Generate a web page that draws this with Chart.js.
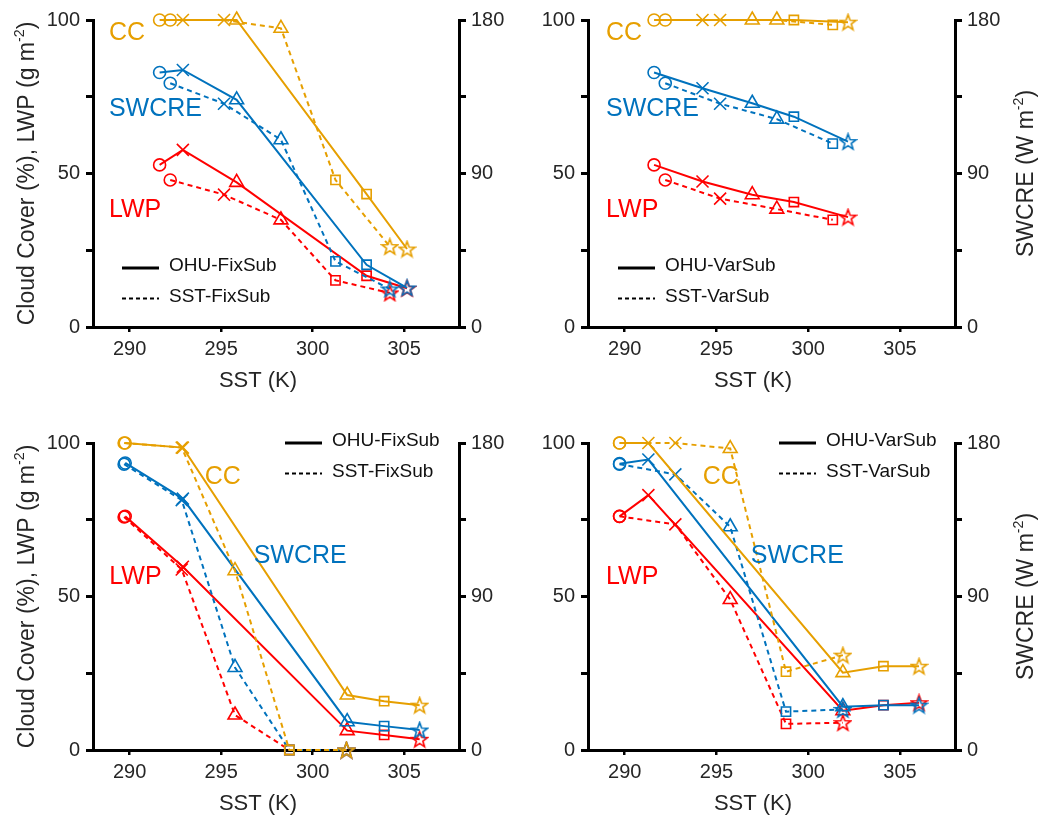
<!DOCTYPE html>
<html>
<head>
<meta charset="utf-8">
<script src="https://cdn.jsdelivr.net/npm/chart.js@4.4.1/dist/chart.umd.min.js"></script>
<style>
  html, body { margin: 0; padding: 0; background: #fff; overflow: hidden; }
  canvas { position: absolute; }
</style>
</head>
<body>
<canvas id="pa" width="520" height="394" style="left:0;top:0"></canvas>
<canvas id="pb" width="525" height="394" style="left:520px;top:0"></canvas>
<canvas id="pc" width="520" height="394" style="left:0;top:423px"></canvas>
<canvas id="pd" width="525" height="394" style="left:520px;top:423px"></canvas>
<script>
const FONT = '"Liberation Sans", Arial, Helvetica, sans-serif';
const CC_COLOR = '#E69F00';
const SW_COLOR = '#0072BD';
const LWP_COLOR = '#FF0000';

// axis ticks
const sstTicks = [290, 295, 300, 305];
const leftTicks = [0, 25, 50, 75, 100];
const leftLabels = [0, 50, 100];
const rightTicks = [0, 45, 90, 135, 180];
const rightLabels = [0, 90, 180];

// panel a: OHU-FixSub (solid) vs SST-FixSub (dashed)
const sstOhuA = [291.64, 292.91, 295.85, 302.95, 305.16];
const sstSstA = [292.22, 295.16, 298.27, 301.25, 304.22];
const ccOhuA  = [100, 100, 100, 43.3, 25.4];
const ccSstA  = [100, 100, 97.3, 47.9, 26.2];
const swOhuA  = [149.2, 150.7, 133.2, 36.5, 22.9];
const swSstA  = [142.9, 130.9, 109.8, 38.5, 22.3];
const lwpOhuA = [52.8, 57.7, 47.1, 16.7, 12.6];
const lwpSstA = [47.9, 43.1, 34.9, 15.2, 11.1];

// panel b: OHU-VarSub vs SST-VarSub
const sstOhuB = [291.6, 294.24, 296.95, 299.22, 302.17];
const sstSstB = [292.21, 295.2, 298.29, 301.34];
const ccOhuB  = [100, 100, 100, 100, 99.3];
const ccSstB  = [100, 100, 100, 98.4];
const swOhuB  = [149.2, 140.0, 131.2, 123.3, 108.7];
const swSstB  = [142.9, 130.9, 121.9, 107.5];
const lwpOhuB = [52.8, 47.4, 43.1, 40.7, 35.8];
const lwpSstB = [47.9, 41.8, 38.4, 34.9];

// panel c: OHU-FixSub vs SST-FixSub
const sstOhuC = [289.76, 292.91, 301.89, 303.91, 305.85];
const sstSstC = [289.7, 292.85, 295.76, 298.73, 301.85];
const ccOhuC  = [100, 98.5, 17.9, 15.9, 14.6];
const ccSstC  = [100, 98.5, 58.4, 0, 0];
const swOhuC  = [168.3, 147.4, 16.6, 14.0, 11.7];
const swSstC  = [167.6, 146.5, 48.4, 0, 0];
const lwpOhuC = [76.1, 59.7, 6.3, 4.9, 3.5];
const lwpSstC = [75.9, 58.8, 11.4, 0, 0];

// panel d: OHU-VarSub vs SST-VarSub
const sstOhuD = [289.72, 291.29, 301.89, 304.1, 306.04];
const sstSstD = [289.72, 292.76, 295.75, 298.79, 301.89];
const ccOhuD  = [100, 100, 25.2, 27.3, 27.3];
const ccSstD  = [100, 100, 98.2, 25.5, 30.9];
const swOhuD  = [167.9, 170.3, 25.4, 26.3, 26.3];
const swSstD  = [167.6, 161.6, 130.9, 22.5, 23.8];
const lwpOhuD = [76.1, 83.0, 12.8, 14.6, 15.4];
const lwpSstD = [76.1, 73.5, 49.0, 8.5, 8.9];

// in-plot series names, [x, y] in data units
const namePosA = [[288.87, 95.8], [288.87, 71.0], [288.87, 38.1]];
const namePosB = [[288.98, 95.8], [288.98, 71.0], [288.98, 38.1]];
const namePosC = [[294.11, 89.0], [296.78, 63.0], [288.89, 56.4]];
const namePosD = [[294.25, 89.0], [296.87, 63.0], [288.98, 56.4]];

function makeStar(color) {
  const c = document.createElement('canvas');
  c.width = 19; c.height = 19;
  const g = c.getContext('2d');
  g.strokeStyle = color;
  g.lineWidth = 1.6;
  g.beginPath();
  for (let i = 0; i < 10; i++) {
    const r = i % 2 === 0 ? 8.3 : 3.4;
    const a = -Math.PI / 2 + i * Math.PI / 5;
    const px = 9.5 + r * Math.cos(a), py = 10.2 + r * Math.sin(a);
    if (i) g.lineTo(px, py); else g.moveTo(px, py);
  }
  g.closePath();
  g.stroke();
  return c;
}
const stars = {};
[CC_COLOR, SW_COLOR, LWP_COLOR].forEach(c => { stars[c] = makeStar(c); });

const MARKERS = ['circle', 'crossRot', 'triangle', 'rect', 'star'];
const RADII = [6, 8.5, 8, 6.5, 8];

function series(xs, ys, color, dashed, axis) {
  const n = xs.length;
  return {
    data: xs.map((x, i) => ({x: x, y: ys[i]})),
    yAxisID: axis,
    borderColor: color,
    backgroundColor: 'transparent',
    borderWidth: 2,
    borderDash: dashed ? [5, 4] : [],
    pointStyle: MARKERS.slice(0, n).map(m => m === 'star' ? stars[color] : m),
    pointRadius: RADII.slice(0, n),
    pointBorderWidth: 1.6,
    pointBorderColor: color,
    pointBackgroundColor: 'transparent',
    tension: 0,
    clip: false
  };
}

function drawParts(ctx, parts, size) {
  let w = 0;
  const widths = parts.map(p => {
    ctx.font = `${p.sup ? size * 0.62 : size}px ${FONT}`;
    const pw = ctx.measureText(p.t).width;
    w += pw;
    return pw;
  });
  let x = -w / 2;
  parts.forEach((p, i) => {
    ctx.font = `${p.sup ? size * 0.62 : size}px ${FONT}`;
    ctx.fillText(p.t, x, p.sup ? -size * 0.42 : 0);
    x += widths[i];
  });
}

const decorPlugin = {
  id: 'decor',
  afterDraw(chart, _, opts) {
    const {ctx, chartArea: a, scales} = chart;
    ctx.save();

    // series names inside the plot
    ctx.font = `25px ${FONT}`;
    ctx.textAlign = 'left';
    ctx.textBaseline = 'middle';
    const names = ['CC', 'SWCRE', 'LWP'];
    const cols = [CC_COLOR, SW_COLOR, LWP_COLOR];
    opts.names.forEach((p, i) => {
      ctx.fillStyle = cols[i];
      ctx.fillText(names[i], scales.x.getPixelForValue(p[0]), scales.y.getPixelForValue(p[1]));
    });

    // legend
    const lg = opts.legend;
    ctx.strokeStyle = '#000';
    ctx.fillStyle = '#111';
    ctx.font = `19px ${FONT}`;
    lg.rows.forEach((txt, i) => {
      const y = a.top + lg.y + i * 30.5;
      ctx.beginPath();
      ctx.lineWidth = i === 0 ? 3 : 2;
      ctx.setLineDash(i === 0 ? [] : [4, 3]);
      ctx.moveTo(a.left + lg.x, y);
      ctx.lineTo(a.left + lg.x + 37, y);
      ctx.stroke();
      ctx.fillText(txt, a.left + lg.x + 47, y - 2);
    });
    ctx.setLineDash([]);

    // axis titles
    ctx.fillStyle = '#262626';
    ctx.textBaseline = 'alphabetic';
    ctx.textAlign = 'left';
    const midY = (a.top + a.bottom) / 2;
    ctx.save();
    ctx.translate(a.left + 165, a.bottom + 60);
    drawParts(ctx, [{t: 'SST (K)'}], 22);
    ctx.restore();
    if (opts.leftTitle) {
      ctx.save();
      ctx.translate(a.left - 59.5, midY);
      ctx.rotate(-Math.PI / 2);
      drawParts(ctx, [{t: 'Cloud Cover (%), LWP (g m'}, {t: '-2', sup: true}, {t: ')'}], 23);
      ctx.restore();
    }
    if (opts.rightTitle) {
      ctx.save();
      ctx.translate(a.right + 77.7, midY);
      ctx.rotate(-Math.PI / 2);
      drawParts(ctx, [{t: 'SWCRE (W m'}, {t: '-2', sup: true}, {t: ')'}], 23);
      ctx.restore();
    }
    ctx.restore();
  }
};

function axisStyle() {
  return {
    grid: {drawOnChartArea: false, drawTicks: true, tickLength: 7, lineWidth: 3, color: '#000'},
    border: {display: true, width: 3, color: '#000'}
  };
}

function makePanel(id, d, opts) {
  const datasets = [
    series(d.sstOhu, d.ccOhu, CC_COLOR, false, 'y'),
    series(d.sstSst, d.ccSst, CC_COLOR, true, 'y'),
    series(d.sstOhu, d.swOhu, SW_COLOR, false, 'y1'),
    series(d.sstSst, d.swSst, SW_COLOR, true, 'y1'),
    series(d.sstOhu, d.lwpOhu, LWP_COLOR, false, 'y'),
    series(d.sstSst, d.lwpSst, LWP_COLOR, true, 'y')
  ];
  const tickFont = {family: FONT, size: 20};
  new Chart(document.getElementById(id), {
    type: 'line',
    data: {datasets: datasets},
    plugins: [decorPlugin],
    options: {
      responsive: false,
      animation: false,
      devicePixelRatio: 1,
      layout: {padding: {top: 20, left: 0, right: 0, bottom: 0}},
      plugins: {
        legend: {display: false},
        tooltip: {enabled: false},
        decor: opts
      },
      scales: {
        x: {
          type: 'linear', min: 288, max: 308,
          afterBuildTicks: s => { s.ticks = sstTicks.map(v => ({value: v})); },
          afterFit: s => { s.height = 67; },
          ...axisStyle(),
          grid: {drawOnChartArea: false, drawTicks: true, tickLength: 5, lineWidth: 2.5, color: '#000'},
          ticks: {font: tickFont, color: '#262626', padding: 5, maxRotation: 0, callback: v => String(v)}
        },
        y: {
          position: 'left', min: 0, max: 100,
          afterBuildTicks: s => { s.ticks = leftTicks.map(v => ({value: v})); },
          afterFit: s => { s.width = opts.leftW; },
          ...axisStyle(),
          ticks: {font: tickFont, color: '#262626', padding: 6,
                  callback: v => leftLabels.includes(v) ? String(v) : ''}
        },
        y1: {
          position: 'right', min: 0, max: 180,
          afterBuildTicks: s => { s.ticks = rightTicks.map(v => ({value: v})); },
          afterFit: s => { s.width = opts.rightW; },
          ...axisStyle(),
          ticks: {font: tickFont, color: '#262626', padding: 5,
                  callback: v => rightLabels.includes(v) ? String(v) : ''}
        }
      }
    }
  });
}

makePanel('pa',
  {sstOhu: sstOhuA, sstSst: sstSstA, ccOhu: ccOhuA, ccSst: ccSstA, swOhu: swOhuA, swSst: swSstA, lwpOhu: lwpOhuA, lwpSst: lwpSstA},
  {leftW: 93, rightW: 61, leftTitle: true, rightTitle: false, names: namePosA,
   legend: {x: 29, y: 248, rows: ['OHU-FixSub', 'SST-FixSub']}});
makePanel('pb',
  {sstOhu: sstOhuB, sstSst: sstSstB, ccOhu: ccOhuB, ccSst: ccSstB, swOhu: swOhuB, swSst: swSstB, lwpOhu: lwpOhuB, lwpSst: lwpSstB},
  {leftW: 68, rightW: 90, leftTitle: false, rightTitle: true, names: namePosB,
   legend: {x: 30, y: 248, rows: ['OHU-VarSub', 'SST-VarSub']}});
makePanel('pc',
  {sstOhu: sstOhuC, sstSst: sstSstC, ccOhu: ccOhuC, ccSst: ccSstC, swOhu: swOhuC, swSst: swSstC, lwpOhu: lwpOhuC, lwpSst: lwpSstC},
  {leftW: 93, rightW: 61, leftTitle: true, rightTitle: false, names: namePosC,
   legend: {x: 192, y: 0, rows: ['OHU-FixSub', 'SST-FixSub']}});
makePanel('pd',
  {sstOhu: sstOhuD, sstSst: sstSstD, ccOhu: ccOhuD, ccSst: ccSstD, swOhu: swOhuD, swSst: swSstD, lwpOhu: lwpOhuD, lwpSst: lwpSstD},
  {leftW: 68, rightW: 90, leftTitle: false, rightTitle: true, names: namePosD,
   legend: {x: 191, y: 0, rows: ['OHU-VarSub', 'SST-VarSub']}});
</script>
</body>
</html>
